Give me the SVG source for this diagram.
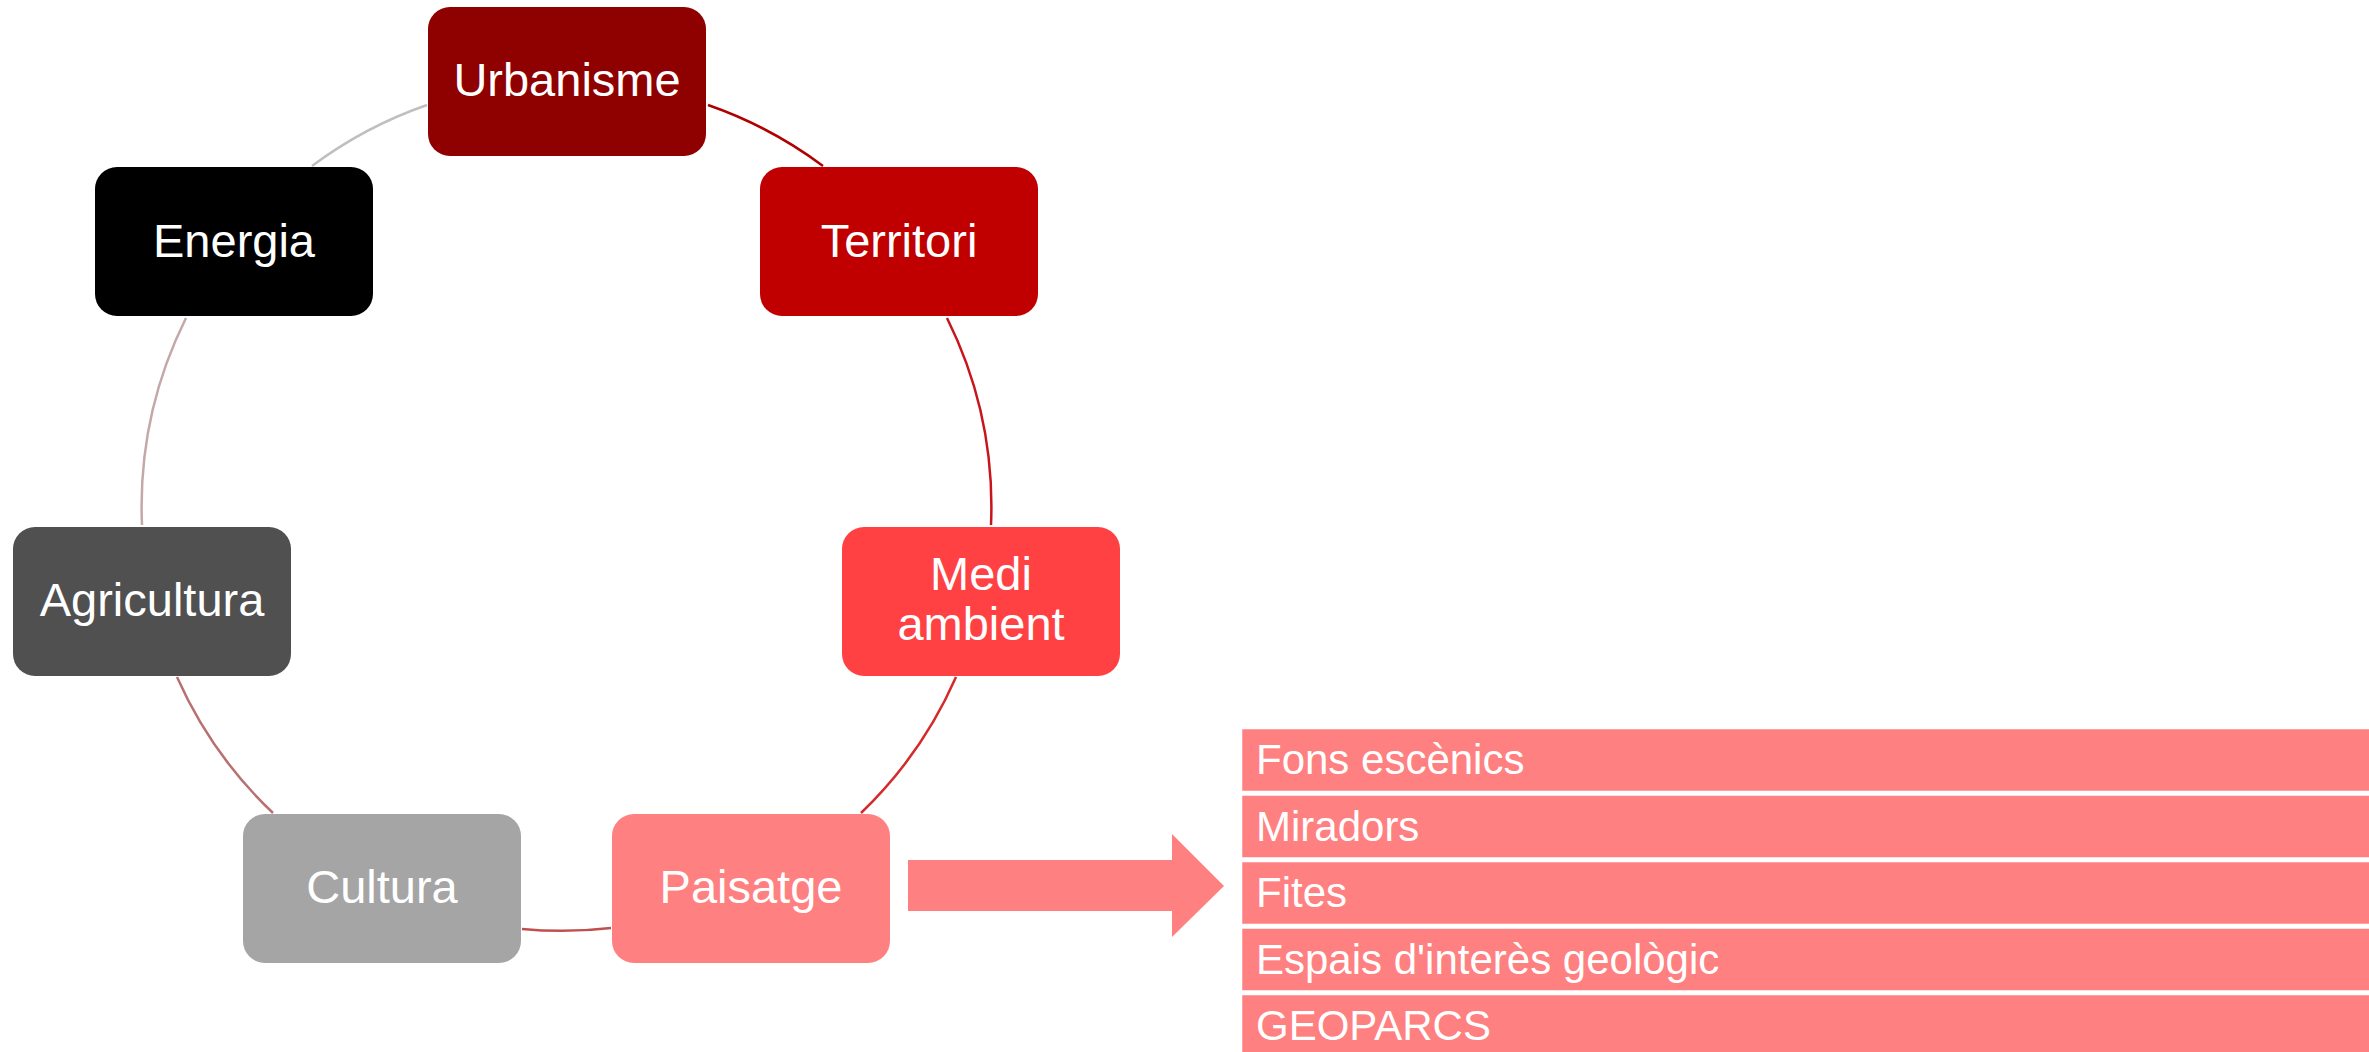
<svg xmlns="http://www.w3.org/2000/svg" width="2369" height="1052" viewBox="0 0 2369 1052">
<style>
.node rect{rx:22px;ry:22px}
.lbl{font-family:"Liberation Sans",Arial,sans-serif;font-size:47px;fill:#fff;text-anchor:middle}
.item{font-family:"Liberation Sans",Arial,sans-serif;font-size:42px;fill:#fff}
.arc{fill:none;stroke-width:2.5}
.bar{fill:#FF8080;stroke:#fff;stroke-width:2.5}
</style>
<rect width="2369" height="1052" fill="#fff"/>
<g id="connectors">
<path class="arc" stroke="#BFBFBF" d="M312 166 A425 425 0 0 1 427 105"/>
<path class="arc" stroke="#B00000" d="M708 105 A425 425 0 0 1 823 166"/>
<path class="arc" stroke="#C8141A" d="M947 318 A425 425 0 0 1 991 525"/>
<path class="arc" stroke="#D42A2A" d="M956 677 A425 425 0 0 1 861 813"/>
<path class="arc" stroke="#C0504D" stroke-width="3.5" d="M611 928 A425 425 0 0 1 522 929"/>
<path class="arc" stroke="#B87070" d="M273 813 A425 425 0 0 1 177 677"/>
<path class="arc" stroke="#C4A8A8" d="M142 525 A425 425 0 0 1 186 318"/>
</g>
<g id="urbanisme" class="node"><rect x="428" y="7" width="278" height="149" fill="#8F0000"/><text class="lbl" x="567" y="96">Urbanisme</text></g>
<g id="territori" class="node"><rect x="760" y="167" width="278" height="149" fill="#C00000"/><text class="lbl" x="899" y="257">Territori</text></g>
<g id="medi-ambient" class="node"><rect x="842" y="527" width="278" height="149" fill="#FF4144"/><text class="lbl" x="981" y="590">Medi</text><text class="lbl" x="981" y="640">ambient</text></g>
<g id="paisatge" class="node"><rect x="612" y="814" width="278" height="149" fill="#FF8080"/><text class="lbl" x="751" y="903">Paisatge</text></g>
<g id="cultura" class="node"><rect x="243" y="814" width="278" height="149" fill="#A5A5A5"/><text class="lbl" x="382" y="903">Cultura</text></g>
<g id="agricultura" class="node"><rect x="13" y="527" width="278" height="149" fill="#505050"/><text class="lbl" x="152" y="616">Agricultura</text></g>
<g id="energia" class="node"><rect x="95" y="167" width="278" height="149" fill="#000000"/><text class="lbl" x="234" y="257">Energia</text></g>
<g id="arrow"><polygon fill="#FF8080" points="908,860 1172,860 1172,834 1224,886 1172,937 1172,911 908,911"/></g>
<g id="list">
<g id="item1"><rect class="bar" x="1241" y="728" width="1140" height="64"/><text class="item" x="1256" y="774">Fons escènics</text></g>
<g id="item2"><rect class="bar" x="1241" y="794.5" width="1140" height="64"/><text class="item" x="1256" y="840.5">Miradors</text></g>
<g id="item3"><rect class="bar" x="1241" y="861" width="1140" height="64"/><text class="item" x="1256" y="907">Fites</text></g>
<g id="item4"><rect class="bar" x="1241" y="927.5" width="1140" height="64"/><text class="item" x="1256" y="973.5">Espais d'interès geològic</text></g>
<g id="item5"><rect class="bar" x="1241" y="994" width="1140" height="70"/><text class="item" x="1256" y="1040">GEOPARCS</text></g>
</g>
</svg>
